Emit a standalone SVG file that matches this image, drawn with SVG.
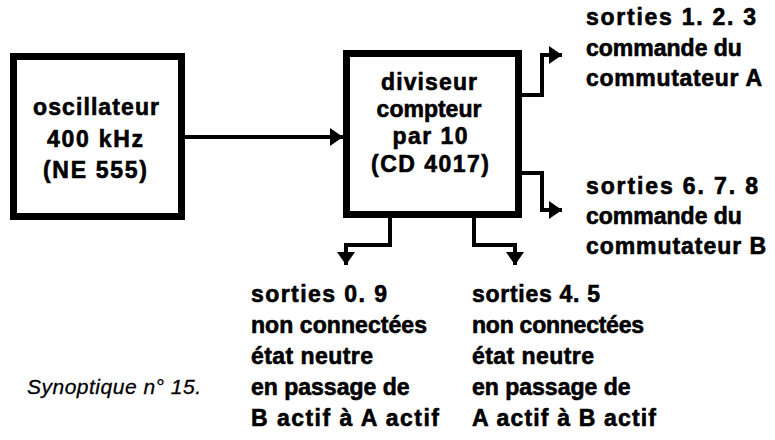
<svg xmlns="http://www.w3.org/2000/svg" width="775" height="440" viewBox="0 0 775 440">
<defs>
<style>
.box{fill:#fff;stroke:#000;stroke-width:7}
.t{font-family:"Liberation Sans",Arial,sans-serif;font-weight:bold;font-size:23px;fill:#000;stroke:#000;stroke-width:0.6}
.c{text-anchor:middle}
.cap{font-family:"Liberation Sans",Arial,sans-serif;font-style:italic;font-size:21px;fill:#000;stroke:#000;stroke-width:0.3}
.w{fill:none;stroke:#000;stroke-width:4;marker-end:url(#ah)}
</style>
<marker id="ah" markerUnits="userSpaceOnUse" markerWidth="14" markerHeight="18" refX="13" refY="9" orient="auto">
<path d="M0,0 L13,9 L0,18 z" fill="#000"/>
</marker>
</defs>
<rect width="775" height="440" fill="#fff"/>
<g id="oscillateur">
<rect class="box" x="13.5" y="56.5" width="168" height="160"/>
<text class="t c" x="96" y="115" textLength="126" lengthAdjust="spacing">oscillateur</text>
<text class="t c" x="95" y="147" textLength="96" lengthAdjust="spacing">400 kHz</text>
<text class="t c" x="95" y="178" textLength="104" lengthAdjust="spacing">(NE 555)</text>
</g>
<g id="diviseur">
<rect class="box" x="346.5" y="53.5" width="172" height="161"/>
<text class="t c" x="429" y="90" textLength="96" lengthAdjust="spacing">diviseur</text>
<text class="t c" x="429" y="117">compteur</text>
<text class="t c" x="430" y="144" textLength="75" lengthAdjust="spacing">par 10</text>
<text class="t c" x="430" y="172" textLength="118" lengthAdjust="spacing">(CD 4017)</text>
</g>
<g id="sortiesA">
<text class="t" x="586" y="25" textLength="170" lengthAdjust="spacing">sorties 1. 2. 3</text>
<text class="t" x="586" y="56">commande du</text>
<text class="t" x="586" y="86" textLength="176" lengthAdjust="spacing">commutateur A</text>
</g>
<g id="sortiesB">
<text class="t" x="586" y="194" textLength="172" lengthAdjust="spacing">sorties 6. 7. 8</text>
<text class="t" x="586" y="224">commande du</text>
<text class="t" x="586" y="254" textLength="180" lengthAdjust="spacing">commutateur B</text>
</g>
<g id="sorties09">
<text class="t" x="251" y="302" textLength="136" lengthAdjust="spacing">sorties 0. 9</text>
<text class="t" x="251" y="333" textLength="176" lengthAdjust="spacing">non connectées</text>
<text class="t" x="251" y="364" textLength="122" lengthAdjust="spacing">état neutre</text>
<text class="t" x="251" y="395">en passage de</text>
<text class="t" x="251" y="426" textLength="188" lengthAdjust="spacing">B actif à A actif</text>
</g>
<g id="sorties45">
<text class="t" x="472" y="302" textLength="128" lengthAdjust="spacing">sorties 4. 5</text>
<text class="t" x="472" y="333" textLength="172" lengthAdjust="spacing">non connectées</text>
<text class="t" x="472" y="364" textLength="122" lengthAdjust="spacing">état neutre</text>
<text class="t" x="472" y="395">en passage de</text>
<text class="t" x="472" y="426" textLength="184" lengthAdjust="spacing">A actif à B actif</text>
</g>
<g id="caption">
<text class="cap" x="27" y="394" textLength="174" lengthAdjust="spacing">Synoptique n° 15.</text>
</g>
<g id="connectors">
<path class="w" d="M185,137 H343"/>
<path class="w" d="M522,95 H542 V55 H562"/>
<path class="w" d="M522,173 H542 V210 H562"/>
<path class="w" d="M390,218 V245 H346 V265"/>
<path class="w" d="M474,218 V245 H515 V265"/>
</g>
</svg>
